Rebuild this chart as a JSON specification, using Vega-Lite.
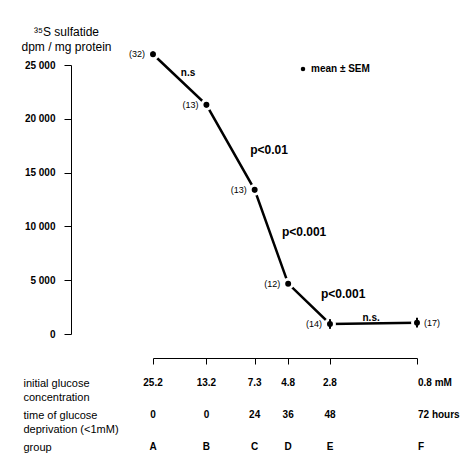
{
  "$schema": "https://vega.github.io/schema/vega-lite/v6.json",
  "padding": {"left": 20, "top": 25, "right": 5, "bottom": 5},
  "spacing": 2,
  "config": {
    "view": {"stroke": null},
    "font": "Liberation Sans",
    "axis": {"grid": false, "domainColor": "black", "tickColor": "black", "labelColor": "black", "titleColor": "black"},
    "legend": {"labelColor": "black"}
  },
  "datasets": {
    "groups": [
      {"group": "A", "conc": 25.2, "hours": 0, "value": 26000, "sem": 250, "n": "(32)"},
      {"group": "B", "conc": 13.2, "hours": 0, "value": 21300, "sem": 250, "n": "(13)"},
      {"group": "C", "conc": 7.3, "hours": 24, "value": 13400, "sem": 250, "n": "(13)"},
      {"group": "D", "conc": 4.8, "hours": 36, "value": 4680, "sem": 250, "n": "(12)"},
      {"group": "E", "conc": 2.8, "hours": 48, "value": 930, "sem": 450, "n": "(14)"},
      {"group": "F", "conc": 0.8, "hours": 72, "value": 1050, "sem": 450, "n": "(17)"}
    ],
    "notes": [
      {"text": "n.s", "conc": 16.5, "value": 24250},
      {"text": "p<0.01", "conc": 6.1, "value": 17100},
      {"text": "p<0.001", "conc": 3.92, "value": 9480},
      {"text": "p<0.001", "conc": 2.35, "value": 3720},
      {"text": "n.s.", "conc": 1.6, "value": 1490}
    ],
    "table": [
      {"row": "initial glucose|concentration", "group": "A", "conc": 25.2, "label": "25.2"},
      {"row": "initial glucose|concentration", "group": "B", "conc": 13.2, "label": "13.2"},
      {"row": "initial glucose|concentration", "group": "C", "conc": 7.3, "label": "7.3"},
      {"row": "initial glucose|concentration", "group": "D", "conc": 4.8, "label": "4.8"},
      {"row": "initial glucose|concentration", "group": "E", "conc": 2.8, "label": "2.8"},
      {"row": "initial glucose|concentration", "group": "F", "conc": 0.8, "label": "0.8 mM"},
      {"row": "time of glucose|deprivation (<1mM)", "group": "A", "conc": 25.2, "label": "0"},
      {"row": "time of glucose|deprivation (<1mM)", "group": "B", "conc": 13.2, "label": "0"},
      {"row": "time of glucose|deprivation (<1mM)", "group": "C", "conc": 7.3, "label": "24"},
      {"row": "time of glucose|deprivation (<1mM)", "group": "D", "conc": 4.8, "label": "36"},
      {"row": "time of glucose|deprivation (<1mM)", "group": "E", "conc": 2.8, "label": "48"},
      {"row": "time of glucose|deprivation (<1mM)", "group": "F", "conc": 0.8, "label": "72 hours"},
      {"row": "group", "group": "A", "conc": 25.2, "label": "A"},
      {"row": "group", "group": "B", "conc": 13.2, "label": "B"},
      {"row": "group", "group": "C", "conc": 7.3, "label": "C"},
      {"row": "group", "group": "D", "conc": 4.8, "label": "D"},
      {"row": "group", "group": "E", "conc": 2.8, "label": "E"},
      {"row": "group", "group": "F", "conc": 0.8, "label": "F"}
    ]
  },
  "vconcat": [
    {
      "width": 264,
      "height": 269,
      "encoding": {
        "x": {"field": "conc", "type": "quantitative",
          "scale": {"type": "symlog", "constant": 0.3, "domain": [0.8, 25.2], "reverse": true, "nice": false, "zero": false},
          "axis": {"values": [25.2, 13.2, 7.3, 4.8, 2.8, 0.8], "labels": false, "title": null, "offset": 24, "tickSize": 6, "domainWidth": 1, "tickWidth": 1}},
        "y": {"field": "value", "type": "quantitative",
          "scale": {"domain": [0, 25000], "nice": false, "zero": true},
          "axis": {"values": [0, 5000, 10000, 15000, 20000, 25000], "offset": 82, "tickSize": 7, "labelPadding": 9,
            "labelExpr": "replace(format(datum.value, ','), ',', ' ')",
            "labelFontSize": 10, "labelFontWeight": "bold",
            "title": ["³⁵S sulfatide", "dpm / mg protein"], "titleAngle": 0, "titleAlign": "center", "titleBaseline": "bottom",
            "titleX": -5, "titleY": -27, "titleFontSize": 12, "titleFontWeight": "normal", "titleLineHeight": 15}}
      },
      "layer": [
        {"data": {"name": "groups"}, "mark": {"type": "line", "color": "black", "strokeWidth": 2.5}},
        {"data": {"name": "groups"}, "mark": {"type": "point", "filled": true, "size": 80, "opacity": 1, "stroke": "white", "strokeWidth": 3},
          "encoding": {"color": {"datum": "mean ± SEM", "type": "nominal", "scale": {"range": ["black"]},
            "legend": {"title": null, "orient": "none", "legendX": 145, "legendY": -1, "symbolType": "circle", "symbolSize": 20, "symbolStrokeWidth": 0, "symbolFillColor": "black",
              "labelFontSize": 10, "labelFontWeight": "bold", "labelOffset": 3}}}},
        {"data": {"name": "groups"}, "mark": {"type": "errorbar", "color": "black", "thickness": 2},
          "encoding": {"yError": {"field": "sem"}}},
        {"data": {"name": "groups"}, "transform": [{"filter": "datum.group != 'F'"}],
          "mark": {"type": "text", "align": "right", "dx": -8, "fontSize": 9, "color": "black"},
          "encoding": {"text": {"field": "n"}}},
        {"data": {"name": "groups"}, "transform": [{"filter": "datum.group == 'F'"}],
          "mark": {"type": "text", "align": "left", "dx": 7, "fontSize": 9, "color": "black"},
          "encoding": {"text": {"field": "n"}}},
        {"data": {"name": "notes"}, "transform": [{"filter": "indexof(datum.text, 'p') == 0"}],
          "mark": {"type": "text", "fontSize": 12, "fontWeight": "bold", "color": "black"},
          "encoding": {"text": {"field": "text"}}},
        {"data": {"name": "notes"}, "transform": [{"filter": "indexof(datum.text, 'n') == 0"}],
          "mark": {"type": "text", "fontSize": 10, "fontWeight": "bold", "color": "black"},
          "encoding": {"text": {"field": "text"}}}
      ]
    },
    {
      "width": 264,
      "height": 96,
      "data": {"name": "table"},
      "encoding": {
        "x": {"field": "conc", "type": "quantitative",
          "scale": {"type": "symlog", "constant": 0.3, "domain": [0.8, 25.2], "reverse": true, "nice": false, "zero": false},
          "axis": null},
        "y": {"field": "row", "type": "nominal",
          "scale": {"type": "point", "padding": 0.5, "domain": ["initial glucose|concentration", "time of glucose|deprivation (<1mM)", "group"]},
          "axis": {"title": null, "domain": false, "ticks": false, "tickSize": 0, "offset": 82, "labelPadding": 48, "labelAlign": "left", "labelBaseline": "middle",
            "labelExpr": "split(datum.label, '|')", "labelFontSize": 11, "labelLineHeight": 14, "labelLimit": 200}},
        "text": {"field": "label"}
      },
      "layer": [
        {"transform": [{"filter": "datum.group != 'F'"}],
          "mark": {"type": "text", "align": "center", "fontSize": 10, "fontWeight": "bold", "color": "black"}},
        {"transform": [{"filter": "datum.group == 'F'"}],
          "mark": {"type": "text", "align": "left", "dx": 1, "fontSize": 10, "fontWeight": "bold", "color": "black"}}
      ]
    }
  ]
}
